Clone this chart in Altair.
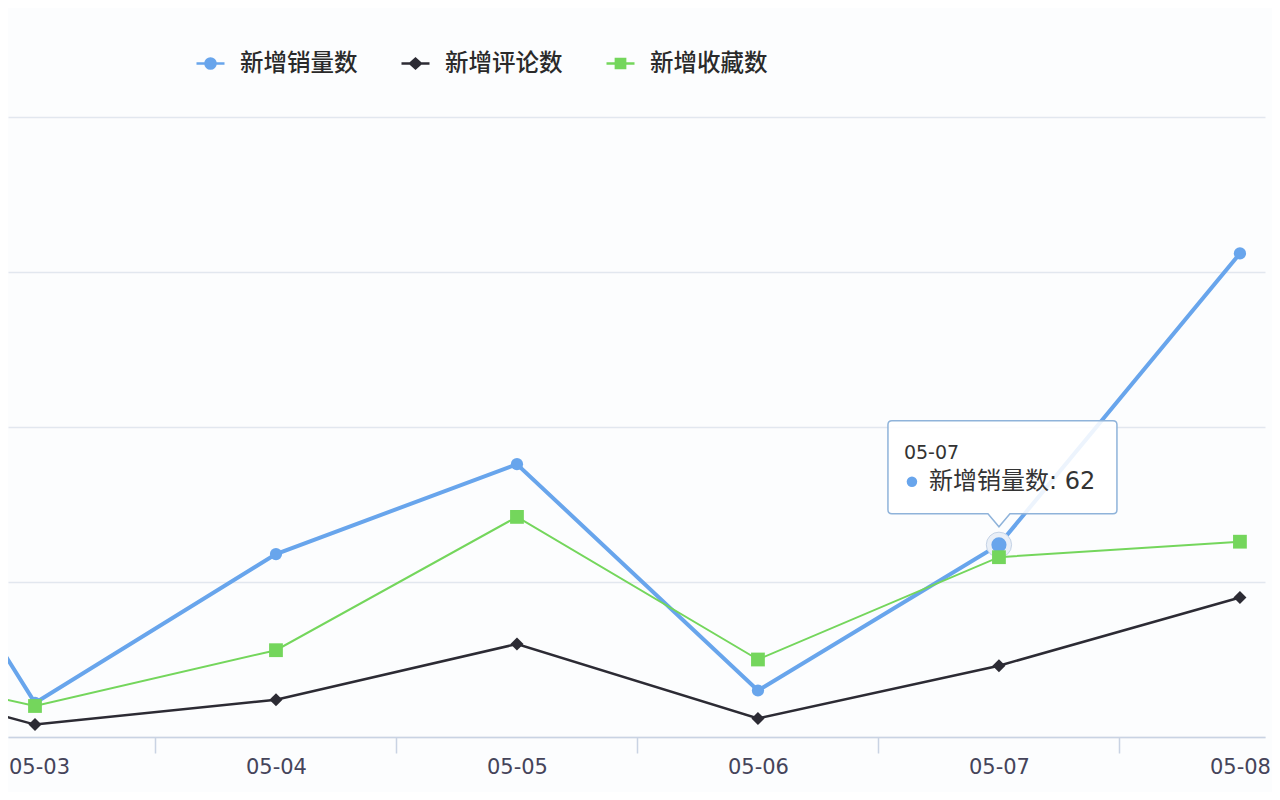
import pandas as pd
import altair as alt

# daily data (05-02 sits just left of the visible area)
dates = ["05-02", "05-03", "05-04", "05-05", "05-06", "05-07", "05-08"]
series_names = ["新增销量数", "新增评论数", "新增收藏数"]
sales = [135, 11, 59, 88, 15, 62, 156]
comments = [25, 4, 12, 30, 6, 23, 45]
favorites = [27, 10, 28, 71, 25, 58, 63]
y_ticks = [0, 50, 100, 150, 200]
hover_date = "05-07"
hover_series = "新增销量数"

colors = ["#68a5ec", "#2c2b34", "#74d65c"]
marker_shapes = ["circle", "diamond", "square"]
line_widths = [4, 2.5, 2]
marker_sizes = [150, 170, 190]
# legend symbols: a short line with the marker on it
legend_paths = [
    "M-1,0H1M-0.36,0A0.36,0.36,0,1,0,0.36,0A0.36,0.36,0,1,0,-0.36,0Z",
    "M-1,0H1M-0.38,0L0,-0.34L0.38,0L0,0.34Z",
    "M-1,0H1M-0.33,-0.33H0.33V0.33H-0.33Z",
]
tooltip_path = ("M-107,-124H114Q118,-124,118,-120V-35Q118,-31,114,-31H11L0,-18L-11,-31"
                "H-107Q-111,-31,-111,-35V-120Q-111,-124,-107,-124Z")

rows = []
for name, vals in zip(series_names, [sales, comments, favorites]):
    for d, v in zip(dates, vals):
        rows.append({"date": d, "day": int(d[-2:]), "series": name, "value": v})
df = pd.DataFrame(rows)

days = [int(d[-2:]) for d in dates]
axis_values = sorted(days[1:] + [d + 0.5 for d in days[1:-1]])
label_expr = "''"
for d in reversed(dates):
    label_expr = f"datum.value === {int(d[-2:])} ? '{d}' : ({label_expr})"

CJK = "Noto Sans CJK SC"
NUM = "DejaVu Sans"
MIXED = "'DejaVu Sans', 'Noto Sans CJK SC'"

x_enc = alt.X(
    "day:Q",
    scale=alt.Scale(domain=[2.888, 8.104], nice=False, zero=False),
    axis=alt.Axis(
        values=axis_values, labelExpr=label_expr, title=None, grid=False,
        domainColor="#c9d3e3", domainWidth=1.5,
        tickColor="#c9d3e3", tickWidth=1.5, tickSize=16,
        tickOpacity={"condition": {"test": "datum.value % 1 !== 0", "value": 1}, "value": 0},
        # first label sits at the cropped left edge: nudge it inside
        labelOffset={"condition": {"test": f"datum.value === {days[1]}", "value": 4}, "value": 0},
        labelFont=NUM, labelFontSize=21, labelColor="#45445a", labelPadding=3,
        labelOverlap=False, labelFlush=False, labelBound=False,
    ),
)
y_enc = alt.Y(
    "value:Q",
    scale=alt.Scale(domain=[0, 200], nice=False),
    axis=alt.Axis(values=y_ticks, labels=False, ticks=False, domain=False,
                  grid=True, gridColor="#e2e7ef", gridWidth=1.5, title=None),
)

base = alt.Chart(df)

hover = base.transform_filter(
    f"datum.series === '{hover_series}' && datum.date === '{hover_date}'"
)

layers = []
for i, name in enumerate(series_names):
    s = base.transform_filter(f"datum.series === '{name}'")
    layers.append(s.mark_line(color=colors[i], strokeWidth=line_widths[i], clip=True)
                  .encode(x=x_enc, y=y_enc))
    layers.append(s.mark_point(shape=marker_shapes[i], size=marker_sizes[i], filled=True,
                               color=colors[i], opacity=1, clip=True)
                  .encode(x=x_enc, y=y_enc))
    if name == hover_series:
        layers.append(hover.mark_point(shape="circle", size=640, filled=True, color="#e9eff7",
                                       stroke="#c5d3e6", strokeWidth=1, opacity=1)
                      .encode(x=x_enc, y=y_enc))
        layers.append(hover.mark_point(shape="circle", size=230, filled=True,
                                       color=colors[i], opacity=1)
                      .encode(x=x_enc, y=y_enc))

# legend only layer (draws nothing)
legend = alt.Legend(
    title=None, orient="none", legendX=187, legendY=-69, direction="horizontal",
    symbolSize=784, symbolStrokeWidth=2.5, symbolOpacity=1,
    labelFont=CJK, labelFontSize=23.5, labelFontWeight=500, labelColor="#2a2a2a",
    labelOffset=14, columnPadding=38, padding=0,
)
legend_layer = base.transform_filter("false").mark_point(filled=True).encode(
    x=x_enc, y=y_enc,
    fill=alt.Fill("series:N", scale=alt.Scale(domain=series_names, range=colors), legend=legend),
    stroke=alt.Stroke("series:N", scale=alt.Scale(domain=series_names, range=colors), legend=legend),
    shape=alt.Shape("series:N", scale=alt.Scale(domain=series_names, range=legend_paths), legend=legend),
)
layers.append(legend_layer)

# tooltip box at the hovered point
layers.append(hover.mark_point(shape=tooltip_path, size=4, filled=True, fill="#ffffff",
                               fillOpacity=0.88, stroke="#8fb3da", strokeWidth=1.5, opacity=1)
              .encode(x=x_enc, y=y_enc))
layers.append(hover.mark_text(align="left", baseline="middle", dx=-95, dy=-92,
                              font=NUM, fontSize=19, color="#333333")
              .encode(x=x_enc, y=y_enc, text="date:N"))
layers.append(hover.mark_point(shape="circle", size=110, filled=True, color=colors[0],
                               opacity=1, xOffset=-87, yOffset=-63)
              .encode(x=x_enc, y=y_enc))
layers.append(hover.transform_calculate(tip="datum.series + ': ' + datum.value")
              .mark_text(align="left", baseline="middle", dx=-70, dy=-63,
                         font=MIXED, fontSize=24, color="#333333")
              .encode(x=x_enc, y=y_enc, text="tip:N"))

chart = alt.layer(*layers).properties(
    width=1257, height=620,
    autosize=alt.AutoSizeParams(type="none"),
    padding={"left": 0, "top": 109, "right": 7, "bottom": 55},
    background="#fcfdfe",
).configure_view(stroke=None)

chart.save("out.html", embed_options={"renderer": "svg", "actions": False})
